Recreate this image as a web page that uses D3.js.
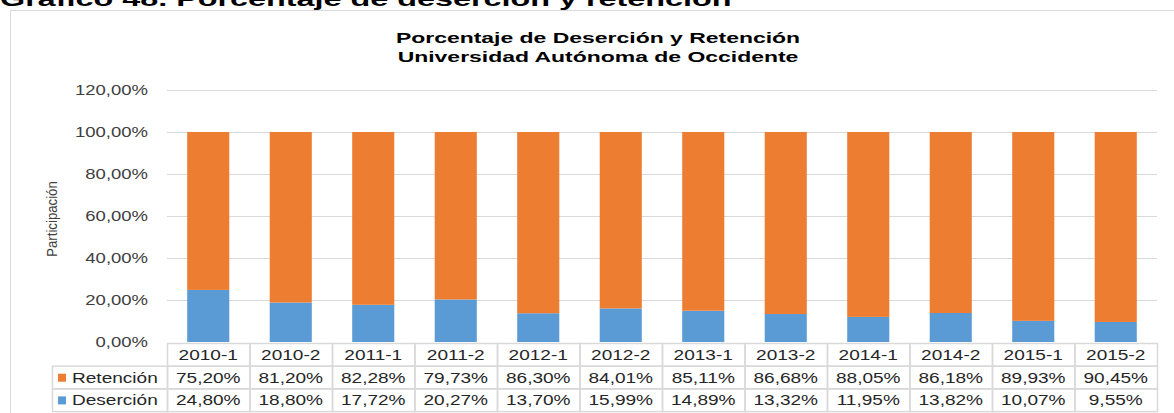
<!DOCTYPE html>
<html lang="es">
<head>
<meta charset="utf-8">
<title>Porcentaje de Deserción y Retención</title>
<script src="https://cdn.jsdelivr.net/npm/d3@7"></script>
<style>
  body { margin: 0; background: #fff; }
  text { font-family: "Liberation Sans", Arial, sans-serif; }
</style>
</head>
<body>
<script>
// datos
var periodos = ["2010-1","2010-2","2011-1","2011-2","2012-1","2012-2","2013-1","2013-2","2014-1","2014-2","2015-1","2015-2"];
var desercion = [24.80, 18.80, 17.72, 20.27, 13.70, 15.99, 14.89, 13.32, 11.95, 13.82, 10.07, 9.55];
var retencion = [75.20, 81.20, 82.28, 79.73, 86.30, 84.01, 85.11, 86.68, 88.05, 86.18, 89.93, 90.45];
var yTicks = [0, 20, 40, 60, 80, 100, 120];
var series = [
  {name: "Retención", values: retencion, color: "#ED7D31"},
  {name: "Deserción", values: desercion, color: "#5B9BD5"}
];

var W = 1174, H = 413;
var svg = d3.select("body").append("svg").attr("width", W).attr("height", H);

var loc = d3.formatLocale({decimal: ",", thousands: ".", grouping: [3], currency: ["$", ""]});
var pct = function(v) { return loc.format(".2f")(v) + "%"; };

// el original esta estirado a lo ancho
function stretch(sel, sx) {
  sel.each(function() {
    var len = this.getComputedTextLength();
    d3.select(this).attr("textLength", len * sx).attr("lengthAdjust", "spacingAndGlyphs");
  });
}

// titulo de la pagina (cortado arriba)
svg.append("text")
   .attr("x", 0).attr("y", 6)
   .style("font-size", "21px").style("font-weight", "bold")
   .text("Gráfico 48. Porcentaje de deserción y retención")
   .call(stretch, 1.54);

// marco del grafico
svg.append("rect")
   .attr("x", 10.5).attr("y", 10.5)
   .attr("width", W).attr("height", H)
   .attr("fill", "none").attr("stroke", "#d9d9d9");

svg.append("text")
   .attr("x", 598).attr("y", 43)
   .attr("text-anchor", "middle")
   .style("font-size", "15.5px").style("font-weight", "bold")
   .text("Porcentaje de Deserción y Retención")
   .call(stretch, 1.48);
svg.append("text")
   .attr("x", 598).attr("y", 62)
   .attr("text-anchor", "middle")
   .style("font-size", "15.5px").style("font-weight", "bold")
   .text("Universidad Autónoma de Occidente")
   .call(stretch, 1.48);

var x = d3.scaleBand().domain(periodos).range([167, 1157]);
var y = d3.scaleLinear().domain([0, 120]).range([342, 90]);

// grid
svg.append("g").selectAll("line")
   .data(yTicks.filter(function(d){ return d > 0; }))
   .enter().append("line")
   .attr("x1", 167).attr("x2", 1157)
   .attr("y1", function(d){ return Math.round(y(d)) + 0.5; })
   .attr("y2", function(d){ return Math.round(y(d)) + 0.5; })
   .attr("stroke", "#d9d9d9");

// eje y
var yAxis = svg.append("g")
   .attr("transform", "translate(148,0)")
   .call(d3.axisLeft(y).tickValues(yTicks).tickSize(0).tickPadding(0)
          .tickFormat(function(d){ return pct(d); }));
yAxis.select(".domain").remove();
yAxis.selectAll("text")
   .style("font-family", "'Liberation Sans', Arial, sans-serif")
   .style("font-size", "14px").attr("fill", "#404040")
   .call(stretch, 1.32);

// titulo eje y, letra angosta
svg.append("text")
   .attr("transform", "translate(57,219) rotate(-90)")
   .attr("text-anchor", "middle")
   .style("font-size", "15px").attr("fill", "#404040")
   .text("Participación")
   .call(stretch, 0.88);

// barras apiladas
var barW = x.bandwidth() * 0.51;
var stacked = d3.stack().keys([1, 0])
   .value(function(d, k){ return series[k].values[d]; })(d3.range(periodos.length));

svg.append("g").selectAll("g")
   .data(stacked).enter().append("g")
   .attr("fill", function(d){ return series[d.key].color; })
   .selectAll("rect")
   .data(function(d){ return d; })
   .enter().append("rect")
   .attr("x", function(d){ return x(periodos[d.data]) + (x.bandwidth() - barW) / 2; })
   .attr("width", barW)
   .attr("y", function(d){ return y(d[1]); })
   .attr("height", function(d){ return y(d[0]) - y(d[1]); });

// tabla de datos
var rowTop = 343, rowH = 22.7, legL = 52;
var tbl = svg.append("g");
var lineC = "#d9d9d9";
var sx = 1.36;

// encabezado
tbl.selectAll(".hcell").data(periodos).enter().append("rect")
   .attr("x", function(d){ return x(d) + 0.5; }).attr("y", rowTop + 0.5)
   .attr("width", x.bandwidth()).attr("height", rowH)
   .attr("fill", "none").attr("stroke", lineC).attr("stroke-width", 1.5);
tbl.selectAll(".htext").data(periodos).enter().append("text")
   .attr("x", function(d){ return x(d) + x.bandwidth() / 2; })
   .attr("y", rowTop + 17)
   .attr("text-anchor", "middle")
   .style("font-size", "14px").attr("fill", "#262626")
   .text(function(d){ return d; })
   .call(stretch, sx);

series.forEach(function(s, i) {
  var top = rowTop + rowH * (i + 1);
  tbl.append("rect")
     .attr("x", legL + 0.5).attr("y", top + 0.5)
     .attr("width", 167 - legL).attr("height", rowH)
     .attr("fill", "none").attr("stroke", lineC).attr("stroke-width", 1.5);
  tbl.append("rect")
     .attr("x", 58).attr("y", top + 8)
     .attr("width", 8).attr("height", 8)
     .attr("fill", s.color);
  tbl.append("text")
     .attr("x", 72).attr("y", top + 17)
     .style("font-size", "14px").attr("fill", "#262626")
     .text(s.name)
     .call(stretch, sx);
  tbl.selectAll(".c" + i).data(s.values).enter().append("rect")
     .attr("x", function(d, j){ return x(periodos[j]) + 0.5; }).attr("y", top + 0.5)
     .attr("width", x.bandwidth()).attr("height", rowH)
     .attr("fill", "none").attr("stroke", lineC).attr("stroke-width", 1.5);
  tbl.selectAll(".t" + i).data(s.values).enter().append("text")
     .attr("x", function(d, j){ return x(periodos[j]) + x.bandwidth() / 2; })
     .attr("y", top + 17)
     .attr("text-anchor", "middle")
     .style("font-size", "14px").attr("fill", "#262626")
     .text(function(d){ return pct(d); })
     .call(stretch, sx);
});
</script>
</body>
</html>
